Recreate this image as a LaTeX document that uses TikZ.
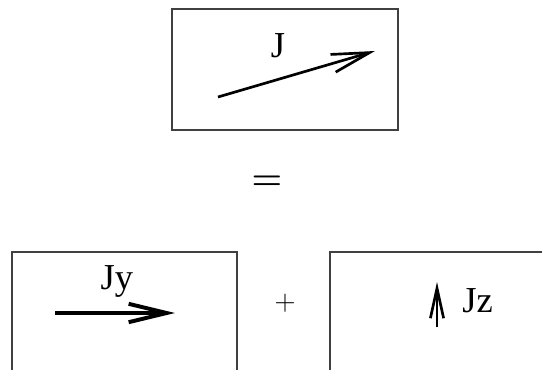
\documentclass[tikz,border=0pt]{standalone}
\usepackage{fontspec}
\setmainfont{Liberation Serif}
\usepackage{tikz}
\usetikzlibrary{arrows.meta,positioning}

\begin{document}
\begin{tikzpicture}[
    box/.style={rectangle, draw=black!75, line width=1pt, inner sep=0pt},
    vec/.style={-{Straight Barb[length=0.95cm, width=0.46cm]}, line width=1.9pt},
    lbl/.style={font=\fontsize{26}{30}\selectfont, inner sep=0pt}
]
\clip (0,0) rectangle (13.55,-9.225);

% Total
\node[box, minimum width=5.65cm, minimum height=3.025cm] (jbox) at (7.125,-1.7375) {};
\coordinate (j0) at (5.45,-2.425);
\coordinate (j1) at (9.375,-1.275);
\draw[vec] (j0) -- (j1);
\node[lbl] (jlab) at (6.95,-1.15) {J};

\node[font=\fontsize{30}{36}\selectfont\mathversion{bold}] (eq) at (6.675,-4.575) {$=$};

% Components
\node[box, minimum width=5.625cm, minimum height=4cm] (jybox) at (3.1125,-8.3) {};
\coordinate (y0) at (1.375,-7.825);
\coordinate (y1) at (4.375,-7.825);
\draw[vec, line width=2.8pt] (y0) -- (y1);
\node[lbl, anchor=base] (jylab) at (2.92,-7.225) {Jy};

\node[font=\fontsize{21}{25}\selectfont] (plus) at (7.125,-7.575) {$+$};

\node[box, minimum width=5.8cm, minimum height=4cm] (jzbox) at (11.15,-8.3) {};
\coordinate (z0) at (10.925,-8.175);
\coordinate (z1) at (10.925,-7.05);
\draw[vec, -{Straight Barb[length=0.75cm, width=0.33cm]}] (z0) -- (z1);
\node[lbl, anchor=base west] (jzlab) at (11.55,-7.8) {Jz};
\end{tikzpicture}
\end{document}
